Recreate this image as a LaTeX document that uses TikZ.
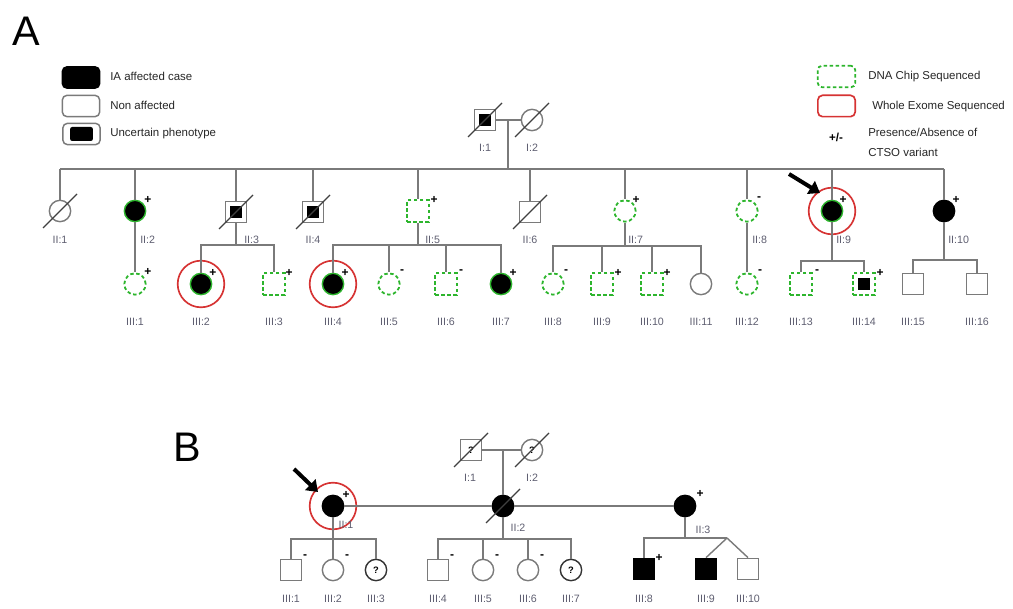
\documentclass[tikz,border=0pt]{standalone}
\usepackage{fontspec}
\setmainfont{Liberation Sans}
\usetikzlibrary{calc,arrows.meta}
\definecolor{lg}{HTML}{7A7A7A}
\definecolor{dg}{HTML}{2DB52D}
\definecolor{wr}{HTML}{D63333}
\definecolor{lb}{HTML}{5E5E70}
\tikzset{
 ln/.style={draw=lg, line width=1.05pt},
 sym/.style={inner sep=0pt, minimum size=16pt, line width=1.05pt},
 male/.style={sym, rectangle, draw=lg},
 fem/.style={sym, circle, draw=lg},
 aff/.style={fill=black, draw=black},
 affg/.style={fill=black, draw=dg},
 dna/.style={draw=dg, dash pattern=on 2.6pt off 1.9pt, line width=1.35pt},
 unc/.style={path picture={\fill[black] ($(path picture bounding box.south west)+(3.4pt,3.4pt)$) rectangle ($(path picture bounding box.north east)+(-3.4pt,-3.4pt)$);}},
 wes/.style={circle, draw=wr, line width=1.25pt, minimum size=35pt, inner sep=0pt},
 lab/.style={font=\fontsize{8pt}{9pt}\selectfont, text=lb, inner sep=0pt},
 pm/.style={font=\bfseries\fontsize{9pt}{10pt}\selectfont, inner sep=0pt},
 qm/.style={font=\bfseries\fontsize{7pt}{8pt}\selectfont},
 legt/.style={font=\fontsize{8.6pt}{10pt}\selectfont, anchor=west, text=black!85, inner sep=0pt},
 legbox/.style={rectangle, rounded corners=3.5pt, minimum width=28pt, minimum height=16pt, inner sep=0pt, line width=1.1pt},
 slashline/.style={draw=black!75, line width=0.85pt},
 bigl/.style={font=\fontsize{31pt}{31pt}\selectfont, inner sep=0pt},
 probarrow/.style={draw=black, line width=3pt, -{Triangle[length=8pt,width=11pt]}},
}
\newcommand\deadm[1]{\draw[slashline] ([shift={(-17,17)}]#1.center) -- ([shift={(17,-17)}]#1.center);}
\newcommand\pmk[3][12,-10]{\node[pm] (#2p) at ([shift={(#1)}]#2.center) {#3};}
\begin{document}
\begin{tikzpicture}[x=0.75pt,y=-0.75pt]
\useasboundingbox (0,0) rectangle (1013,609);
% panel letters
\node[bigl] (labA) at (26,31) {A};
\node[bigl] (labB) at (187,447) {B};
% legend left
\node[legbox, fill=black, draw=black] (lk1) at (81,77.5) {};
\node[legt] (lt1) at (110,76) {IA affected case};
\node[legbox, draw=lg] (lk2) at (81,106) {};
\node[legt] (lt2) at (110,105) {Non affected};
\node[legbox, draw=lg] (lk3) at (81.5,134) {};
\node[rectangle, rounded corners=1.5pt, fill=black, minimum width=17pt, minimum height=10.5pt, inner sep=0pt] (lk3i) at (81.5,134) {};
\node[legt] (lt3) at (110,134) {Uncertain phenotype};
% legend right
\node[legbox, dna, rounded corners=3pt] (lk4) at (836.5,76.5) {};
\node[legt] (lt4) at (868,77) {DNA Chip Sequenced};
\node[legbox, draw=wr, line width=1.25pt] (lk5) at (836.5,106) {};
\node[legt] (lt5) at (872,107) {Whole Exome Sequenced};
\node[pm, font=\bfseries\fontsize{8.7pt}{9pt}\selectfont] (lk6) at (836,137) {+/-};
\node[legt] (lt6) at (868,132) {Presence/Absence of};
\node[legt] (lt7) at (868,152) {CTSO variant};

% ===== Panel A =====
% Gen I
\node[male,unc] (I1) at (485,120) {};
\node[fem] (I2) at (532,120) {};
\deadm{I1}\deadm{I2}
\node[lab] (I1l) at (485,148) {I:1};
\node[lab] (I2l) at (532,148) {I:2};
\draw[ln] (I1.east) -- (I2.west);
\coordinate (m1) at (508,120);
\coordinate (s2L) at (60,169);
\coordinate (s2R) at (944,169);
\draw[ln] (m1) -- (m1 |- s2L);
\draw[ln] (s2L) -- (s2R);

% Gen II
\node[fem] (II1) at (60,211) {};
\node[fem,affg] (II2) at (135,211) {};
\node[male,unc] (II3) at (236,212) {};
\node[male,unc] (II4) at (313,212) {};
\node[male,dna] (II5) at (418,211) {};
\node[male] (II6) at (530,212) {};
\node[fem,dna] (II7) at (625,211) {};
\node[fem,dna] (II8) at (747,211) {};
\node[wes] (II9r) at (832,211) {};
\node[fem,affg] (II9) at (832,211) {};
\node[fem,aff] (II10) at (944,211) {};
\deadm{II1}\deadm{II3}\deadm{II4}\deadm{II6}
\pmk[13,-11]{II2}{+}\pmk[16,-11]{II5}{+}\pmk[11,-11]{II7}{+}\pmk[12,-12]{II8}{-}\pmk[11,-11]{II9}{+}\pmk[12,-11]{II10}{+}
\foreach \n in {II1,II2,II3,II4,II5,II6,II7,II8,II9,II10}{\draw[ln] (\n |- s2L) -- (\n.north);}
\node[lab] (II1l) at (60,240) {II:1};
\node[lab, anchor=west] (II2l) at (140,240) {II:2};
\node[lab, anchor=west] (II3l) at (244,240) {II:3};
\node[lab] (II4l) at (313,240) {II:4};
\node[lab, anchor=west] (II5l) at (425,240) {II:5};
\node[lab] (II6l) at (530,240) {II:6};
\node[lab, anchor=west] (II7l) at (628,240) {II:7};
\node[lab, anchor=west] (II8l) at (752,240) {II:8};
\node[lab, anchor=west] (II9l) at (836,240) {II:9};
\node[lab, anchor=west] (II10l) at (948,240) {II:10};
\draw[probarrow] (789,174) -- (820,193);

% Gen III
\node[fem,dna] (III1) at (135,284) {};
\node[wes] (III2r) at (201,284) {};
\node[fem,affg] (III2) at (201,284) {};
\node[male,dna] (III3) at (274,284) {};
\node[wes] (III4r) at (333,284) {};
\node[fem,affg] (III4) at (333,284) {};
\node[fem,dna] (III5) at (389,284) {};
\node[male,dna] (III6) at (446,284) {};
\node[fem,affg] (III7) at (501,284) {};
\node[fem,dna] (III8) at (553,284) {};
\node[male,dna] (III9) at (602,284) {};
\node[male,dna] (III10) at (652,284) {};
\node[fem] (III11) at (701,284) {};
\node[fem,dna] (III12) at (747,284) {};
\node[male,dna] (III13) at (801,284) {};
\node[male,dna,unc] (III14) at (864,284) {};
\node[male] (III15) at (913,284) {};
\node[male] (III16) at (977,284) {};
\pmk[13,-12]{III1}{+}\pmk[12,-11]{III2}{+}\pmk[15,-11]{III3}{+}\pmk[12,-11]{III4}{+}\pmk[13,-12]{III5}{-}\pmk[15,-12]{III6}{-}\pmk[12,-11]{III7}{+}
\pmk[13,-12]{III8}{-}\pmk[16,-11]{III9}{+}\pmk[15,-11]{III10}{+}\pmk[13,-12]{III12}{-}\pmk[16,-12]{III13}{-}\pmk[16,-11]{III14}{+}
\foreach \n/\t in {III1/III:1,III2/III:2,III3/III:3,III4/III:4,III5/III:5,III6/III:6,III7/III:7,III8/III:8,III9/III:9,III10/III:10,III11/III:11,III12/III:12,III13/III:13,III14/III:14,III15/III:15,III16/III:16}{\node[lab] (\n l) at ([yshift=-38*0.75pt]\n.center) {\t};}
% sibships
\draw[ln] (II2.south) -- (III1.north);
\draw[ln] (II8.south) -- (III12.north);
\coordinate (c3) at (0,245);
\draw[ln] (II3.south) -- (II3 |- c3);
\draw[ln] (III2.north) -- (III2 |- c3) -- (III3 |- c3) -- (III3.north);
\draw[ln] (II5.south) -- (II5 |- c3);
\draw[ln] (III4.north) -- (III4 |- c3) -- (III7 |- c3) -- (III7.north);
\draw[ln] (III5 |- c3) -- (III5.north);
\draw[ln] (III6 |- c3) -- (III6.north);
\coordinate (c7) at (0,246);
\draw[ln] (II7.south) -- (II7 |- c7);
\draw[ln] (III8.north) -- (III8 |- c7) -- (III11 |- c7) -- (III11.north);
\draw[ln] (III9 |- c7) -- (III9.north);
\draw[ln] (III10 |- c7) -- (III10.north);
\coordinate (c9) at (0,261);
\draw[ln] (II9.south) -- (II9 |- c9);
\draw[ln] (III13.north) -- (III13 |- c9) -- (III14 |- c9) -- (III14.north);
\coordinate (c10) at (0,260);
\draw[ln] (II10.south) -- (II10 |- c10);
\draw[ln] (III15.north) -- (III15 |- c10) -- (III16 |- c10) -- (III16.north);

% ===== Panel B =====
\node[male] (BI1) at (471,450) {};
\node[fem] (BI2) at (532,450) {};
\node[qm] (BI1q) at (BI1) {?};
\node[qm] (BI2q) at (BI2) {?};
\deadm{BI1}\deadm{BI2}
\node[lab] (BI1l) at (470,478) {I:1};
\node[lab] (BI2l) at (532,478) {I:2};
\draw[ln] (BI1.east) -- (BI2.west);
\coordinate (bm) at (503,450);
\node[wes] (BII1r) at (333,506) {};
\node[fem,aff] (BII1) at (333,506) {};
\node[fem,aff] (BII2) at (503,506) {};
\node[fem,aff] (BII3) at (685,506) {};
\deadm{BII2}
\pmk[13,-11]{BII1}{+}\pmk[15,-12]{BII3}{+}
\draw[ln] (bm) -- (BII2.north);
\draw[ln] (BII1.east) -- (BII2.west);
\draw[ln] (BII2.east) -- (BII3.west);
\node[lab] (BII1l) at (346,525) {II:1};
\node[lab] (BII2l) at (518,528) {II:2};
\node[lab] (BII3l) at (703,530) {II:3};
\draw[probarrow] (294,469) -- (318,492);
% B Gen III
\node[male] (BIII1) at (291,570) {};
\node[fem] (BIII2) at (333,570) {};
\node[fem, draw=black!80] (BIII3) at (376,570) {};
\node[qm] (BIII3q) at (BIII3) {?};
\node[male] (BIII4) at (438,570) {};
\node[fem] (BIII5) at (483,570) {};
\node[fem] (BIII6) at (528,570) {};
\node[fem, draw=black!80] (BIII7) at (571,570) {};
\node[qm] (BIII7q) at (BIII7) {?};
\node[male,aff] (BIII8) at (644,569) {};
\node[male,aff] (BIII9) at (706,569) {};
\node[male] (BIII10) at (748,569) {};
\pmk[14,-13]{BIII1}{-}\pmk[14,-13]{BIII2}{-}\pmk[14,-13]{BIII4}{-}\pmk[14,-13]{BIII5}{-}\pmk[14,-13]{BIII6}{-}\pmk[15,-11]{BIII8}{+}
\foreach \n/\t in {BIII1/III:1,BIII2/III:2,BIII3/III:3,BIII4/III:4,BIII5/III:5,BIII6/III:6,BIII7/III:7,BIII8/III:8,BIII9/III:9,BIII10/III:10}{\node[lab] (\n l) at (\n.center |- 0,599) {\t};}
\coordinate (bc) at (0,539);
\draw[ln] (BII1.south) -- (BII1 |- bc);
\draw[ln] (BIII1.north) -- (BIII1 |- bc) -- (BIII3 |- bc) -- (BIII3.north);
\draw[ln] (BIII2 |- bc) -- (BIII2.north);
\draw[ln] (BII2.south) -- (BII2 |- bc);
\draw[ln] (BIII4.north) -- (BIII4 |- bc) -- (BIII7 |- bc) -- (BIII7.north);
\draw[ln] (BIII5 |- bc) -- (BIII5.north);
\draw[ln] (BIII6 |- bc) -- (BIII6.north);
\coordinate (tw) at (727,538);
\draw[ln] (BII3.south) -- (BII3 |- tw);
\draw[ln] (BIII8.north) -- (BIII8 |- tw) -- (tw);
\draw[ln] (tw) -- (BIII9.north);
\draw[ln] (tw) -- (BIII10.north);
\end{tikzpicture}
\end{document}
